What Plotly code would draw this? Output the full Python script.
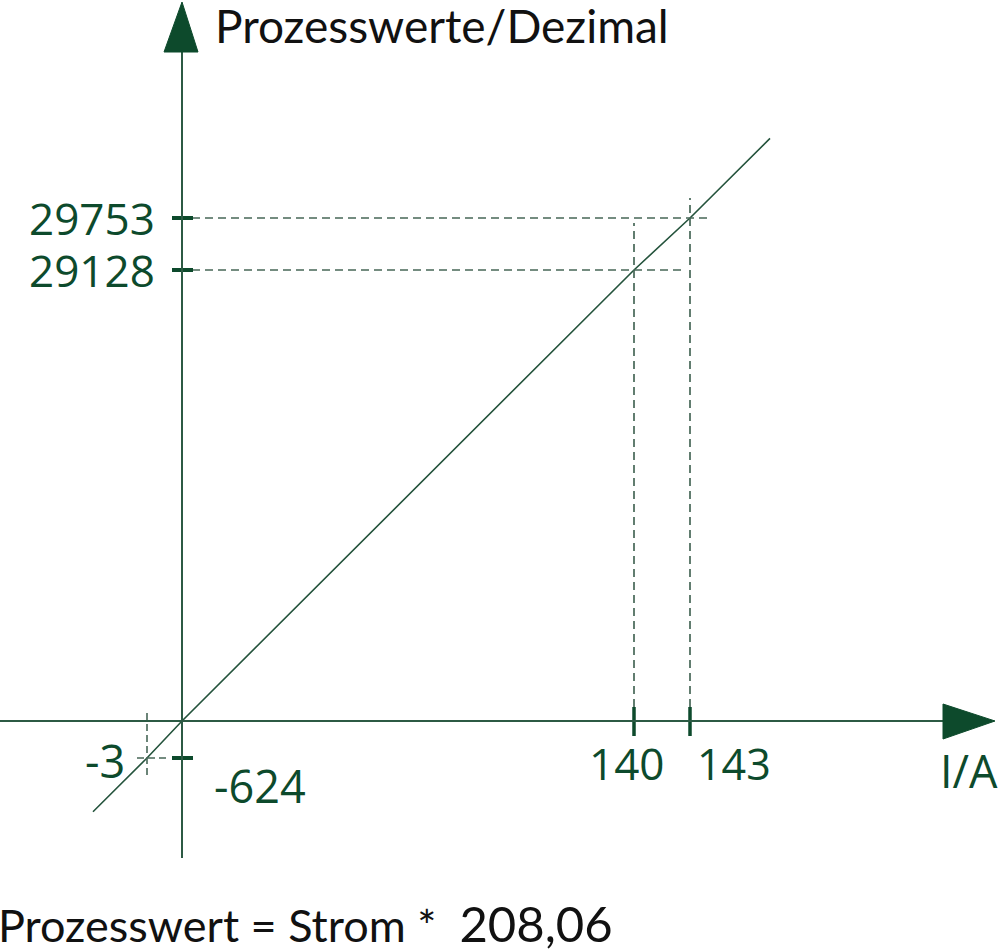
import numpy as np
import plotly.graph_objects as go

# ---------------- data ----------------
strom = [-3, 140, 143]            # I / A
prozess = [-624, 29128, 29753]    # Prozesswerte (dezimal)
faktor = 208.06
x_titel = "I/A"
y_titel = "Prozesswerte/Dezimal"
faktor_txt = f"{faktor:.2f}".replace(".", ",")
formel = ("Prozesswert = Strom * \u00a0"
          + "<span style='font-size:49px'>" + faktor_txt + "</span>")

# ---------------- schematic (not-to-scale) scale ----------------
X_KNOT_VAL = [-3, 0, 140, 143]
X_KNOT_POS = [-35, 0, 452, 508]
Y_KNOT_VAL = [-624, 0, 29128, 29753]
Y_KNOT_POS = [-37, 0, 451, 503]


def sx(v):
    return float(np.interp(v, X_KNOT_VAL, X_KNOT_POS))


def sy(v):
    return float(np.interp(v, Y_KNOT_VAL, Y_KNOT_POS))


GREEN = "#0d4a2c"
AXIS = "#2c5a44"
DASH = "#476757"
LINEC = "#24533c"
FONT_NUM = "Open Sans"
FONT_TXT = "Lato"

fig = go.Figure()

# ---------------- characteristic line ----------------
pts = sorted(zip(strom + [0], prozess + [0]))
lx = [sx(a) for a, _ in pts]
ly = [sy(b) for _, b in pts]
dx, dy = lx[-1] - lx[0], ly[-1] - ly[0]
k = dy / dx
EXT_LO, EXT_HI = 54, 80
lx = [lx[0] - EXT_LO] + lx + [lx[-1] + EXT_HI]
ly = [ly[0] - EXT_LO * k] + ly + [ly[-1] + EXT_HI * k]
fig.add_trace(go.Scatter(x=lx, y=ly, mode="lines",
                         line=dict(color=LINEC, width=1.6), hoverinfo="skip"))

# ---------------- dashed helper lines ----------------
dash = "8px,5px"
ymax = sy(max(prozess))
xmax = sx(max(strom))
v_top = {140: ymax - 5, 143: ymax + 20}
h_end = {29128: xmax - 8, 29753: xmax + 18}
for s in strom:
    if s > 0:
        fig.add_trace(go.Scatter(x=[sx(s), sx(s)], y=[14, v_top[s]], mode="lines",
                                 line=dict(color=DASH, width=1.7, dash=dash), hoverinfo="skip"))
    else:
        fig.add_trace(go.Scatter(x=[sx(s), sx(s)], y=[8, -56], mode="lines",
                                 line=dict(color=DASH, width=1.6, dash="7px,4px"), hoverinfo="skip"))
for p in prozess:
    if p > 0:
        fig.add_trace(go.Scatter(x=[10, h_end[p]], y=[sy(p), sy(p)], mode="lines",
                                 line=dict(color=DASH, width=1.7, dash=dash), hoverinfo="skip"))
    else:
        fig.add_trace(go.Scatter(x=[-45, -14], y=[sy(p), sy(p)], mode="lines",
                                 line=dict(color=DASH, width=1.6, dash="7px,4px"), hoverinfo="skip"))

# ---------------- tick marks ----------------
for s in strom:
    if s > 0:
        fig.add_trace(go.Scatter(x=[sx(s), sx(s)], y=[14, -15], mode="lines",
                                 line=dict(color=GREEN, width=3.5), hoverinfo="skip"))
for p in prozess:
    fig.add_trace(go.Scatter(x=[-10, 11], y=[sy(p), sy(p)], mode="lines",
                             line=dict(color=GREEN, width=4), hoverinfo="skip"))

# ---------------- axes with arrow heads ----------------
shapes = [
    dict(type="line", x0=-182, x1=762, y0=0, y1=0, line=dict(color=AXIS, width=2)),
    dict(type="line", x0=0, x1=0, y0=-137, y1=670, line=dict(color=AXIS, width=2)),
    dict(type="path", path="M 761,17 L 813,0 L 761,-18 Z",
         fillcolor=GREEN, line=dict(color=GREEN, width=1)),
    dict(type="path", path="M -18,669 L 0,719 L 16,669 Z",
         fillcolor=GREEN, line=dict(color=GREEN, width=1)),
]

# ---------------- labels ----------------
num_font = dict(family=FONT_NUM, size=45, color=GREEN)
ann = []
for p in prozess:
    if p > 0:
        ann.append(dict(x=-25, y=sy(p), text=str(p), xanchor="right", yanchor="middle",
                        font=dict(family=FONT_NUM, size=44, color=GREEN), showarrow=False))
    else:
        ann.append(dict(x=30, y=sy(p) - 27, text=str(p), xanchor="left", yanchor="middle",
                        font=num_font, showarrow=False))
for s in strom:
    if s == 140:
        ann.append(dict(x=sx(s) - 8, y=-42, text=str(s), xanchor="center", yanchor="middle",
                        font=dict(family=FONT_NUM, size=44, color=GREEN), showarrow=False))
    elif s == 143:
        ann.append(dict(x=sx(s) + 5, y=-42, text=str(s), xanchor="left", yanchor="middle",
                        font=dict(family=FONT_NUM, size=43, color=GREEN), showarrow=False))
    else:
        ann.append(dict(x=sx(s) - 20, y=-39, text=str(s), xanchor="right", yanchor="middle",
                        font=num_font, showarrow=False))
ann.append(dict(x=756, y=-49, text=x_titel, xanchor="left", yanchor="middle",
                font=num_font, showarrow=False))
ann.append(dict(x=31, y=696, text=y_titel, xanchor="left", yanchor="middle",
                font=dict(family=FONT_TXT, size=46, color="#111111"), showarrow=False))
ann.append(dict(xref="paper", yref="paper", x=0, y=0.03, xshift=-4, text=formel,
                xanchor="left", yanchor="middle",
                font=dict(family=FONT_TXT, size=45, color="#111111"), showarrow=False))

fig.update_layout(
    width=1000, height=952, autosize=False,
    margin=dict(l=0, r=0, t=0, b=0),
    paper_bgcolor="white", plot_bgcolor="white",
    showlegend=False,
    shapes=shapes, annotations=ann,
    xaxis=dict(range=[-182, 818], visible=False, fixedrange=True),
    yaxis=dict(range=[-231, 721], visible=False, fixedrange=True),
)

fig.write_html("out.html", config={"displayModeBar": False},
               post_script="document.body.style.margin='0';document.body.style.overflow='hidden';")
